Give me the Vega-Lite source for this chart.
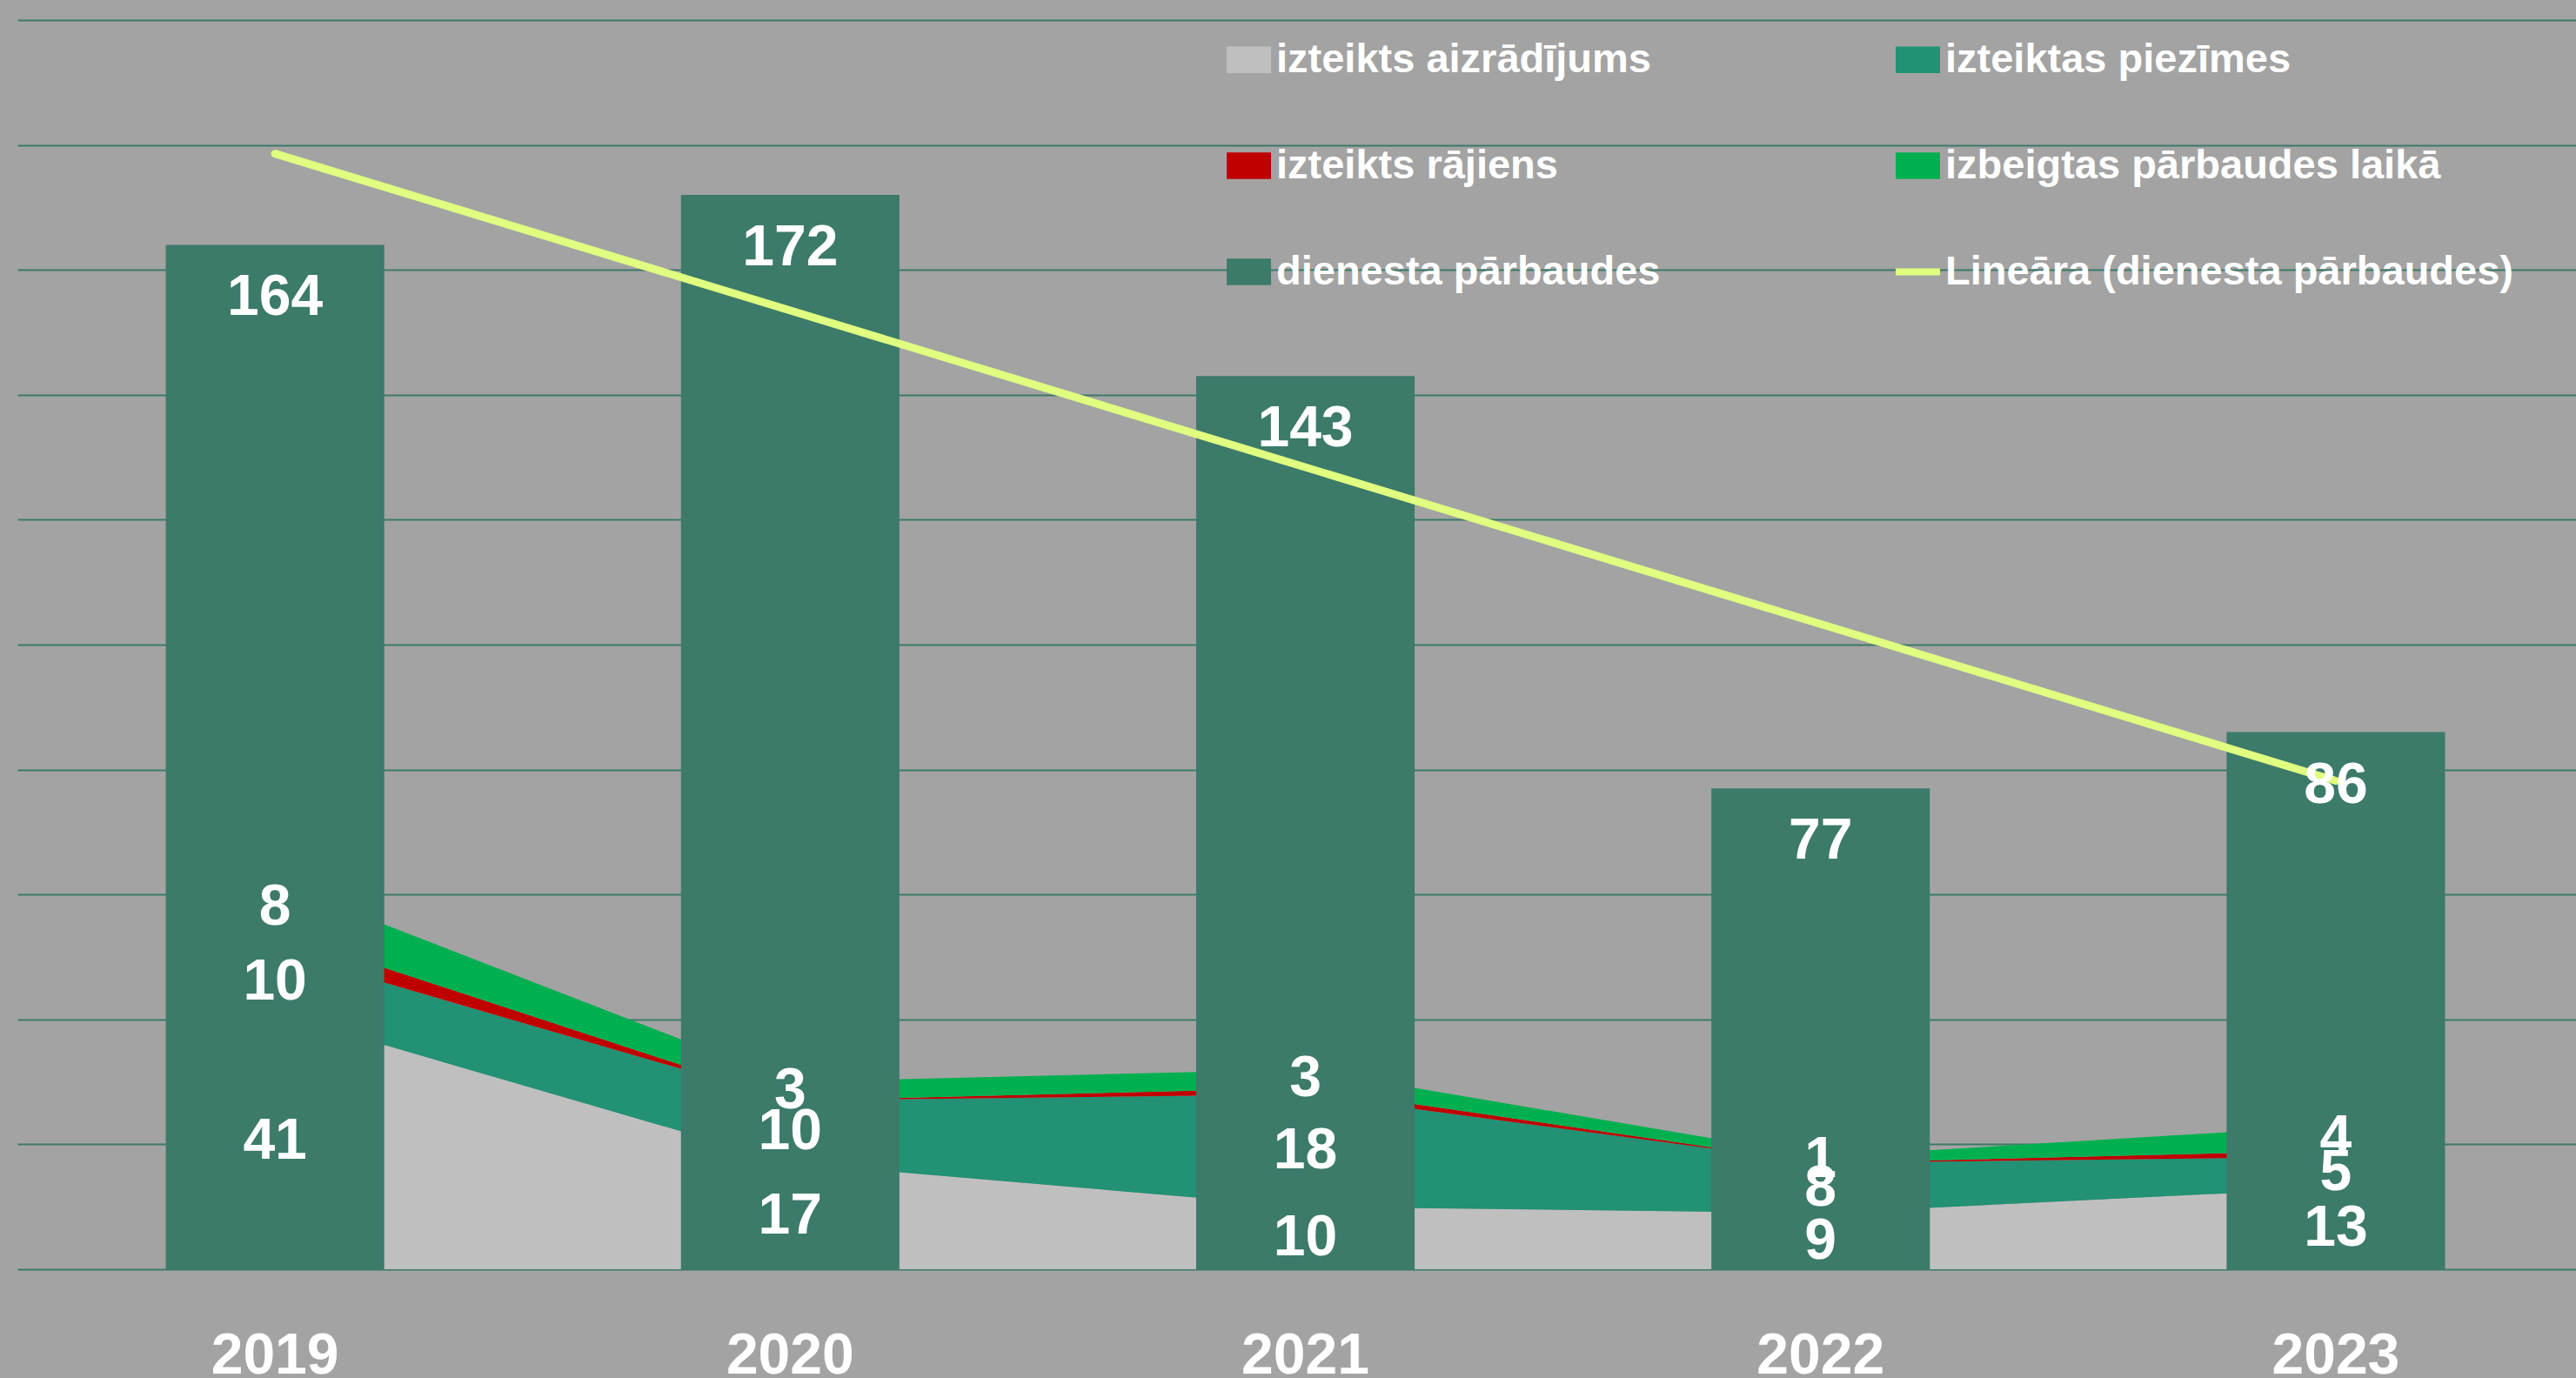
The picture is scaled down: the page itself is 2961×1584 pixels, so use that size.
{
  "$schema": "https://vega.github.io/schema/vega-lite/v6.json",
  "width": 2941,
  "height": 1436,
  "padding": {"left": 20, "top": 23, "right": 0, "bottom": 125},
  "autosize": {"type": "none"},
  "background": "#A3A3A3",
  "config": {
    "view": {"stroke": null},
    "font": "Liberation Sans",
    "axisY": {"grid": true, "gridColor": "#3C7A68", "gridWidth": 2, "domain": false, "ticks": false, "labels": false, "tickCount": 10},
    "axisX": {"grid": false, "domain": false, "ticks": false, "tickSize": 0, "labelColor": "white", "labelFont": "Liberation Sans", "labelFontSize": 66, "labelFontWeight": "bold", "labelPadding": 119, "labelBaseline": "alphabetic", "labelAngle": 0}
  },
  "data": {
    "values": [
      {"year": 2019, "series": "izteikts aizrādījums", "value": 41},
      {"year": 2019, "series": "izteiktas piezīmes", "value": 10},
      {"year": 2019, "series": "izteikts rājiens", "value": 3},
      {"year": 2019, "series": "izbeigtas pārbaudes laikā", "value": 8},
      {"year": 2019, "series": "dienesta pārbaudes", "value": 164},
      {"year": 2020, "series": "izteikts aizrādījums", "value": 17},
      {"year": 2020, "series": "izteiktas piezīmes", "value": 10},
      {"year": 2020, "series": "izteikts rājiens", "value": 0},
      {"year": 2020, "series": "izbeigtas pārbaudes laikā", "value": 3},
      {"year": 2020, "series": "dienesta pārbaudes", "value": 172},
      {"year": 2021, "series": "izteikts aizrādījums", "value": 10},
      {"year": 2021, "series": "izteiktas piezīmes", "value": 18},
      {"year": 2021, "series": "izteikts rājiens", "value": 1},
      {"year": 2021, "series": "izbeigtas pārbaudes laikā", "value": 3},
      {"year": 2021, "series": "dienesta pārbaudes", "value": 143},
      {"year": 2022, "series": "izteikts aizrādījums", "value": 9},
      {"year": 2022, "series": "izteiktas piezīmes", "value": 8},
      {"year": 2022, "series": "izteikts rājiens", "value": 0},
      {"year": 2022, "series": "izbeigtas pārbaudes laikā", "value": 1},
      {"year": 2022, "series": "dienesta pārbaudes", "value": 77},
      {"year": 2023, "series": "izteikts aizrādījums", "value": 13},
      {"year": 2023, "series": "izteiktas piezīmes", "value": 5},
      {"year": 2023, "series": "izteikts rājiens", "value": 1},
      {"year": 2023, "series": "izbeigtas pārbaudes laikā", "value": 4},
      {"year": 2023, "series": "dienesta pārbaudes", "value": 86}
    ]
  },
  "encoding": {
    "x": {
      "field": "year",
      "type": "ordinal",
      "scale": {"range": [0, 2961], "paddingInner": 0.576, "paddingOuter": 0.288},
      "axis": {"title": null}
    }
  },
  "layer": [
    {
      "transform": [
        {"filter": {"field": "series", "oneOf": ["izteikts aizrādījums", "izteiktas piezīmes", "izteikts rājiens", "izbeigtas pārbaudes laikā"]}},
        {"pivot": "series", "value": "value", "groupby": ["year"]},
        {"fold": ["izteikts aizrādījums", "izteiktas piezīmes", "izteikts rājiens", "izbeigtas pārbaudes laikā"], "as": ["series", "value"]},
        {"stack": "value", "groupby": ["year"], "as": ["v0", "v1"]}
      ],
      "mark": {"type": "area", "interpolate": "linear"},
      "encoding": {
        "y": {"field": "v1", "type": "quantitative", "scale": {"domain": [0, 200], "nice": false}, "axis": {"title": null}},
        "y2": {"field": "v0"},
        "color": {
          "field": "series",
          "type": "nominal",
          "scale": {
            "domain": ["izteikts aizrādījums", "izteiktas piezīmes", "izteikts rājiens", "izbeigtas pārbaudes laikā", "dienesta pārbaudes", "Lineāra (dienesta pārbaudes)"],
            "range": ["#BFBFBF", "#229174", "#C00000", "#00B050", "#3C7A6A", "#E0FF80"]
          },
          "legend": {
            "title": null,
            "orient": "none",
            "direction": "horizontal",
            "legendX": 1390,
            "legendY": 20,
            "columns": 2,
            "padding": 0,
            "rowPadding": 73,
            "columnPadding": 270,
            "labelOffset": 6,
            "labelLimit": 2000,
            "labelFont": "Liberation Sans",
            "labelFontSize": 47,
            "labelFontWeight": "bold",
            "labelColor": "white",
            "symbolSize": 2601,
            "symbolType": "M-1,-0.6H1V0.6H-1Z",
            "encode": {
              "symbols": {
                "update": {
                  "shape": {"signal": "datum.value == 'Lineāra (dienesta pārbaudes)' ? 'M-1,-0.16H1V0.16H-1Z' : 'M-1,-0.6H1V0.6H-1Z'"},
                  "fill": {"scale": "color", "field": "value"},
                  "strokeWidth": {"value": 0},
                  "opacity": {"value": 1}
                }
              }
            }
          }
        }
      }
    },
    {
      "transform": [{"filter": "datum.series == 'dienesta pārbaudes'"}],
      "mark": {"type": "bar"},
      "encoding": {
        "y": {"field": "value", "type": "quantitative", "scale": {"domain": [0, 200], "nice": false}, "axis": {"title": null}},
        "color": {"field": "series", "type": "nominal"}
      }
    },
    {
      "transform": [
        {"filter": "datum.series == 'dienesta pārbaudes'"},
        {"regression": "value", "on": "year"}
      ],
      "mark": {"type": "line", "strokeWidth": 9, "strokeCap": "round"},
      "encoding": {
        "y": {"field": "value", "type": "quantitative", "scale": {"domain": [0, 200], "nice": false}, "axis": {"title": null}},
        "color": {"datum": "Lineāra (dienesta pārbaudes)"}
      }
    },
    {
      "transform": [{"filter": "datum.series == 'dienesta pārbaudes'"}],
      "mark": {"type": "text", "dy": 61, "baseline": "middle", "align": "center", "fill": "white", "font": "Liberation Sans", "fontSize": 66, "fontWeight": "bold"},
      "encoding": {
        "y": {"field": "value", "type": "quantitative", "scale": {"domain": [0, 200], "nice": false}, "axis": {"title": null}},
        "text": {"field": "value", "type": "quantitative"}
      }
    },
    {
      "transform": [
        {"filter": {"field": "series", "oneOf": ["izteikts aizrādījums", "izteiktas piezīmes", "izteikts rājiens", "izbeigtas pārbaudes laikā"]}},
        {"pivot": "series", "value": "value", "groupby": ["year"]},
        {"fold": ["izteikts aizrādījums", "izteiktas piezīmes", "izteikts rājiens", "izbeigtas pārbaudes laikā"], "as": ["series", "value"]},
        {"stack": "value", "groupby": ["year"], "as": ["v0", "v1"]},
        {"filter": "datum.series != 'izteikts rājiens'"},
        {"fold": ["v0", "v1"], "as": ["edge", "pos"]},
        {"aggregate": [{"op": "mean", "field": "pos", "as": "mid"}], "groupby": ["year", "series", "value"]}
      ],
      "mark": {"type": "text", "baseline": "middle", "align": "center", "fill": "white", "font": "Liberation Sans", "fontSize": 66, "fontWeight": "bold"},
      "encoding": {
        "y": {"field": "mid", "type": "quantitative", "scale": {"domain": [0, 200], "nice": false}, "axis": {"title": null}},
        "text": {"field": "value", "type": "quantitative"}
      }
    }
  ]
}
